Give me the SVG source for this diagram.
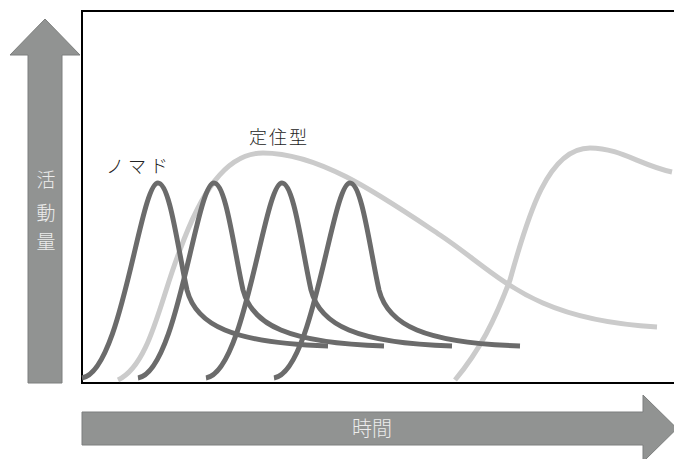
<svg xmlns="http://www.w3.org/2000/svg" xmlns:xlink="http://www.w3.org/1999/xlink" width="674" height="459" viewBox="0 0 674 459">
<style>
.arrow{fill:#919392;stroke:#7d7f7e;stroke-width:1}
.axtxt{font-family:"Noto Sans CJK JP","Noto Sans",sans-serif;font-size:19px;fill:#ececec;text-anchor:middle;font-weight:300}
.lbl{font-family:"Noto Sans CJK JP","Noto Sans",sans-serif;font-size:18px;fill:#222;font-weight:300}
.nomad{fill:none;stroke:#6b6b6b;stroke-width:5;stroke-linecap:butt}
.settled{fill:none;stroke:#cbcbcb;stroke-width:5}
</style>
<defs>
<path id="spike" d="M0,378 C40,372 58,183 76,183 C88,183 96,250 105,290 C114,325 150,343 246,346"/>
</defs>
<rect x="82" y="11" width="600" height="372" fill="#fff" stroke="#000" stroke-width="2"/>
<g id="y-axis">
<polygon class="arrow" points="28,383 28,55 10,55 45,19 80,55 62,55 62,383"/>
<text class="axtxt" x="46" y="187">活</text>
<text class="axtxt" x="46" y="220">動</text>
<text class="axtxt" x="46" y="249">量</text>
</g>
<g id="x-axis">
<polygon class="arrow" points="82,412 643,412 643,395 677,428.5 643,462 643,445 82,445"/>
<text class="axtxt" x="372" y="436" style="font-size:20px">時間</text>
</g>
<g id="settled-curves">
<path class="settled" d="M118,380 C150,365 160,300 180,250 C200,195 225,153 263,153 C320,153 380,195 440,235 C500,275 530,320 657,327"/>
<path class="settled" d="M455,380 C480,350 495,320 510,280 C528,215 548,148 590,148 C620,148 640,165 672,172"/>
</g>
<g id="nomad-curves">
<use xlink:href="#spike" class="nomad" transform="translate(82,0)"/>
<use xlink:href="#spike" class="nomad" transform="translate(138,0)"/>
<use xlink:href="#spike" class="nomad" transform="translate(206,0)"/>
<use xlink:href="#spike" class="nomad" transform="translate(274,0)"/>
</g>
<g id="labels">
<text class="lbl" x="106" y="173" style="letter-spacing:4px">ノマド</text>
<text class="lbl" x="249" y="144" style="letter-spacing:2px">定住型</text>
</g>
</svg>
